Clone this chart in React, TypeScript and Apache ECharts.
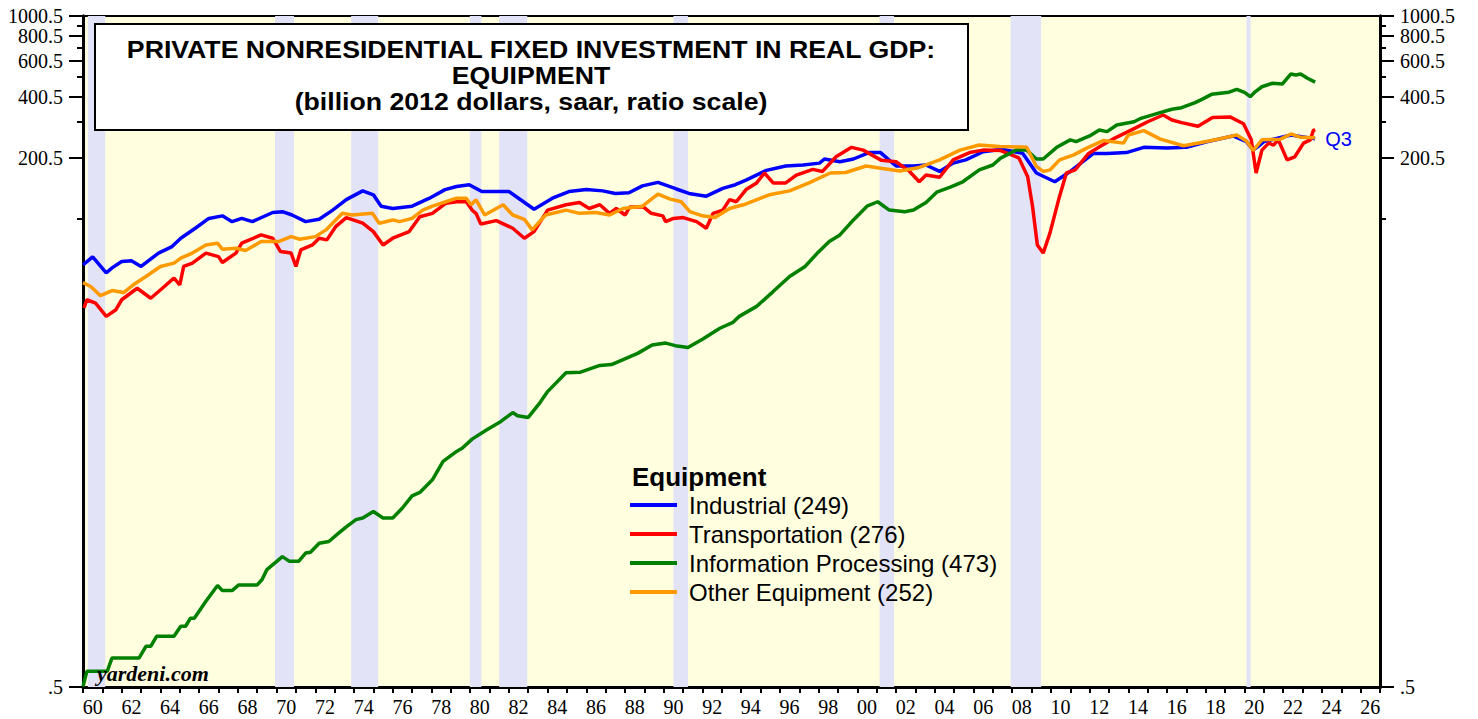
import React, { useEffect, useRef } from "react";
import * as echarts from "echarts";

// ---------- DATA (decimal year, billion 2012 dollars) ----------
const industrial: [number, number][] = [
  [1960.0, 59.7], [1960.5, 65.3], [1961.2, 54.5], [1961.5, 57.7], [1962.0, 62.0], [1962.5, 62.5],
  [1963.0, 58.6], [1963.9, 68.2], [1964.6, 73.4], [1965.05, 80.7], [1965.8, 90.4], [1966.5, 101],
  [1967.2, 104], [1967.7, 97.4], [1968.2, 101], [1968.75, 97.4], [1969.8, 108], [1970.3, 109],
  [1970.8, 105], [1971.5, 97.4], [1972.2, 100], [1972.9, 111], [1973.6, 125], [1974.45, 138],
  [1975.0, 132], [1975.4, 116], [1976.0, 113], [1977.0, 116], [1977.9, 127], [1978.7, 140],
  [1979.3, 145], [1979.95, 148], [1980.6, 137], [1982.0, 137], [1983.3, 112], [1984.25, 127],
  [1985.1, 137], [1986.0, 140], [1986.85, 138], [1987.5, 134], [1988.2, 135], [1988.9, 146],
  [1989.7, 152], [1990.65, 141], [1991.3, 134], [1992.2, 130], [1993.05, 142], [1993.7, 148],
  [1994.25, 156], [1995.3, 174], [1996.3, 183], [1997.2, 185], [1998.05, 189], [1998.3, 198],
  [1999.1, 192], [1999.8, 198], [2000.6, 213], [2001.2, 213], [2002.0, 183], [2002.9, 183],
  [2003.55, 185], [2004.25, 172], [2004.95, 189], [2005.6, 196], [2006.5, 215], [2007.5, 221],
  [2008.55, 211], [2009.25, 169], [2010.2, 153], [2011.0, 172], [2012.2, 211], [2012.9, 211],
  [2013.9, 213], [2014.8, 226], [2016.0, 224], [2017.0, 226], [2018.1, 241], [2019.4, 257],
  [2020.1, 241], [2020.45, 219], [2020.8, 232], [2021.0, 241], [2022.4, 260], [2023.2, 253],
  [2023.65, 249],
];

const transportation: [number, number][] = [
  [1960.05, 36.6], [1960.2, 40.2], [1960.65, 38.7], [1961.2, 33.3], [1961.7, 35.9], [1962.0, 40.2],
  [1962.8, 45.8], [1963.5, 40.9], [1964.1, 45.8], [1964.7, 51.4], [1965.0, 47.6], [1965.2, 58.6],
  [1965.65, 60.9], [1966.35, 68.2], [1967.0, 65.5], [1967.2, 61.3], [1967.9, 68.2], [1968.2, 76.3],
  [1969.2, 83.8], [1969.8, 80.7], [1970.2, 69.4], [1970.75, 68.2], [1971.0, 58.6], [1971.25, 70.7],
  [1971.85, 74.8], [1972.2, 80.7], [1972.6, 79.2], [1973.05, 92.0], [1973.6, 102], [1974.45, 95.7],
  [1975.0, 87.0], [1975.5, 74.8], [1976.0, 80.7], [1976.85, 87.0], [1977.4, 103], [1978.05, 107],
  [1978.75, 120], [1979.3, 122], [1979.8, 122], [1980.1, 111], [1980.3, 107], [1980.55, 94.9],
  [1981.35, 98.5], [1982.2, 90.4], [1982.8, 80.7], [1983.3, 87.0], [1984.0, 111], [1984.95, 118],
  [1985.65, 121], [1986.15, 113], [1986.7, 118], [1987.2, 107], [1987.55, 113], [1988.0, 105],
  [1988.25, 115], [1988.95, 115], [1989.35, 107], [1989.95, 104], [1990.1, 97.4], [1990.5, 101],
  [1991.0, 102], [1991.7, 97.4], [1992.2, 90.4], [1992.55, 107], [1993.05, 111], [1993.4, 125],
  [1993.75, 122], [1994.25, 140], [1994.8, 151], [1995.2, 169], [1995.65, 151], [1996.3, 151],
  [1996.85, 165], [1997.7, 176], [1998.2, 172], [1998.9, 203], [1999.7, 226], [2000.3, 219],
  [2001.25, 195], [2002.0, 192], [2002.7, 172], [2003.2, 153], [2003.55, 165], [2004.25, 161],
  [2004.95, 196], [2005.3, 203], [2005.8, 213], [2006.5, 219], [2007.4, 218], [2008.0, 207],
  [2008.35, 200], [2008.8, 162], [2009.05, 116], [2009.3, 74.8], [2009.6, 68.2], [2009.95, 85.5],
  [2010.4, 125], [2010.8, 169], [2011.25, 175], [2011.95, 211], [2012.6, 230], [2013.3, 251],
  [2014.35, 281], [2015.0, 302], [2015.8, 326], [2016.25, 308], [2016.75, 299], [2017.6, 287],
  [2018.35, 317], [2019.25, 319], [2019.95, 295], [2020.35, 246], [2020.6, 169], [2020.9, 219],
  [2021.25, 237], [2021.5, 232], [2021.75, 246], [2022.2, 196], [2022.6, 203], [2023.05, 237],
  [2023.4, 246], [2023.55, 273], [2023.65, 276],
];

const infoProcessing: [number, number][] = [
  [1960.0, 0.502], [1960.2, 0.597], [1961.25, 0.597], [1961.5, 0.695], [1962.9, 0.695], [1963.25, 0.793],
  [1963.5, 0.793], [1963.8, 0.888], [1964.7, 0.888], [1965.05, 0.995], [1965.3, 0.995], [1965.55, 1.09],
  [1965.75, 1.09], [1966.35, 1.32], [1966.95, 1.58], [1967.2, 1.49], [1967.7, 1.49], [1968.05, 1.59],
  [1969.0, 1.59], [1969.25, 1.69], [1969.5, 1.89], [1970.3, 2.19], [1970.65, 2.08], [1971.15, 2.08],
  [1971.5, 2.28], [1971.75, 2.30], [1972.2, 2.55], [1972.7, 2.60], [1973.25, 2.88], [1973.6, 3.07],
  [1974.1, 3.33], [1974.45, 3.39], [1975.0, 3.65], [1975.5, 3.39], [1976.0, 3.39], [1976.5, 3.80],
  [1977.0, 4.36], [1977.4, 4.53], [1978.05, 5.23], [1978.6, 6.44], [1979.3, 7.21], [1979.6, 7.49],
  [1980.1, 8.29], [1980.8, 9.14], [1981.5, 10.0], [1982.2, 11.2], [1982.45, 10.8], [1983.0, 10.6],
  [1983.6, 12.5], [1984.0, 14.2], [1984.95, 17.6], [1985.7, 17.7], [1986.7, 19.1], [1987.3, 19.3],
  [1987.9, 20.4], [1988.65, 21.9], [1989.4, 24.1], [1990.1, 24.6], [1990.6, 23.9], [1991.25, 23.4],
  [1992.0, 25.7], [1992.9, 29.1], [1993.55, 31.0], [1993.9, 33.3], [1994.8, 37.3], [1995.65, 44.1],
  [1996.5, 52.3], [1997.3, 58.6], [1997.9, 67.6], [1998.55, 77.7], [1999.1, 83.8], [1999.8, 99.3],
  [2000.5, 116], [2001.05, 122], [2001.65, 111], [2002.45, 109], [2002.9, 111], [2003.55, 121],
  [2004.1, 136], [2004.8, 144], [2005.45, 153], [2006.3, 175], [2007.0, 185], [2007.4, 200],
  [2008.2, 219], [2008.75, 219], [2009.25, 198], [2009.6, 198], [2010.3, 226], [2011.0, 246],
  [2011.3, 241], [2012.0, 257], [2012.5, 275], [2012.9, 270], [2013.4, 291], [2014.3, 302],
  [2014.65, 314], [2015.55, 333], [2016.25, 348], [2016.75, 354], [2017.45, 375], [2017.8, 389],
  [2018.3, 412], [2019.2, 422], [2019.6, 436], [2020.0, 421], [2020.3, 401], [2020.55, 424],
  [2020.9, 449], [2021.45, 467], [2021.95, 463], [2022.4, 519], [2022.65, 513], [2022.9, 519],
  [2023.25, 494], [2023.65, 473],
];

const otherEquipment: [number, number][] = [
  [1960.0, 48.8], [1960.4, 46.7], [1960.9, 42.1], [1961.5, 44.6], [1962.1, 43.6], [1962.6, 47.6],
  [1963.25, 52.3], [1964.0, 58.6], [1964.7, 60.9], [1965.05, 64.4], [1965.65, 68.2], [1966.35, 74.8],
  [1966.95, 76.3], [1967.2, 71.3], [1967.9, 72.1], [1968.4, 70.2], [1969.2, 77.7], [1970.1, 77.7],
  [1970.75, 82.2], [1971.2, 79.8], [1972.0, 82.2], [1972.55, 88.7], [1973.4, 107], [1973.9, 105],
  [1974.95, 107], [1975.3, 95.7], [1976.0, 99.3], [1976.35, 97.4], [1977.0, 101], [1977.55, 111],
  [1978.05, 116], [1978.75, 122], [1979.3, 127], [1979.8, 127], [1980.05, 118], [1980.3, 125],
  [1980.75, 105], [1981.7, 118], [1982.2, 105], [1982.8, 100], [1983.2, 88.7], [1983.9, 105],
  [1984.95, 111], [1985.65, 107], [1986.5, 108], [1987.2, 105], [1987.9, 113], [1988.9, 116],
  [1989.7, 133], [1990.3, 126], [1990.9, 122], [1991.35, 109], [1992.0, 104], [1992.65, 102],
  [1993.4, 113], [1994.25, 119], [1995.45, 132], [1996.5, 138], [1997.5, 151], [1998.6, 169],
  [1999.4, 170], [2000.45, 183], [2001.3, 178], [2002.2, 173], [2003.2, 180], [2004.25, 196],
  [2005.3, 219], [2006.3, 232], [2007.35, 228], [2008.5, 227], [2008.75, 226], [2009.25, 182],
  [2009.6, 172], [2009.95, 175], [2010.45, 196], [2011.15, 207], [2011.85, 224], [2012.7, 244],
  [2013.75, 237], [2014.0, 260], [2014.8, 273], [2015.65, 248], [2016.85, 230], [2017.7, 238],
  [2018.75, 249], [2019.6, 260], [2020.1, 243], [2020.45, 218], [2020.9, 246], [2021.85, 248],
  [2022.4, 263], [2022.9, 253], [2023.65, 252],
];

const seriesNames = [
  "Industrial (249)",
  "Transportation (276)",
  "Information Processing (473)",
  "Other Equipment (252)",
];
const seriesColors = ["#0000ff", "#ff0000", "#008000", "#ff9900"];

const recessions: [number, number][] = [
  [1960.25, 1961.15], [1969.92, 1970.9], [1973.85, 1975.25], [1979.98, 1980.58],
  [1981.5, 1982.95], [1990.5, 1991.25], [2001.15, 2001.9], [2007.92, 2009.5], [2020.1, 2020.32],
];

const titleLines = [
  "PRIVATE NONRESIDENTIAL FIXED INVESTMENT IN REAL GDP:",
  "EQUIPMENT",
  "(billion 2012 dollars, saar, ratio scale)",
];

// major (long) ticks with labels, minor (short) ticks; top label kept on its own axis
const yMajorTicks = [0.5, 200.5, 400.5, 600.5, 800.5, 1000.5];
const yMajorLabels = [0.5, 200.5, 400.5, 600.5, 800.5];
const yTopLabel = [1000.5];
const yMinorTicks = [100.5, 300.5, 500.5, 700.5, 900.5];
const xTickYears = Array.from({ length: 68 }, (_, i) => 1960 + i);
const xLabelYears = Array.from({ length: 34 }, (_, i) => 1960.5 + 2 * i);

const Y_MIN = 0.5;
const Y_MAX = 1000.6;

const serif = "'Liberation Serif', 'Times New Roman', serif";
const sans = "'Liberation Sans', Arial, sans-serif";

function yAxisDef(position: "left" | "right", major: boolean) {
  return {
    type: "log",
    logBase: 10,
    min: Y_MIN,
    max: Y_MAX,
    position,
    splitLine: { show: false },
    axisLine: { show: true, lineStyle: { color: "#000", width: 3 } },
    axisTick: {
      show: true,
      inside: false,
      length: major ? 14 : 6,
      lineStyle: { color: "#000", width: 2 },
      customValues: major ? yMajorTicks : yMinorTicks,
    },
    axisLabel: {
      show: true,
      customValues: major ? yMajorLabels : yTopLabel,
      showMaxLabel: true,
      showMinLabel: true,
      margin: 20,
      color: "#000",
      fontFamily: serif,
      fontSize: 20,
      formatter: (v: number) => (v < 1 ? ".5" : v.toFixed(1)),
    },
  };
}

export default function App() {
  const ref = useRef<HTMLDivElement>(null);
  useEffect(() => {
    document.body.style.margin = "0";
    const chart = echarts.init(ref.current!, null, { renderer: "svg" });
    const datasets = [industrial, transportation, infoProcessing, otherEquipment];
    const series: any[] = datasets.map((d, i) => ({
      name: seriesNames[i],
      type: "line",
      xAxisIndex: 0,
      yAxisIndex: 0,
      data: d,
      showSymbol: false,
      smooth: false,
      color: seriesColors[i],
      lineStyle: { width: 3.5, color: seriesColors[i] },
      z: 3 + i,
      ...(i === 0
        ? {
            endLabel: {
              show: true,
              formatter: "Q3",
              color: "#0000ff",
              fontFamily: sans,
              fontSize: 20,
              distance: 10,
            },
            markArea: {
              silent: true,
              itemStyle: { color: "#e3e3f8" },
              data: recessions.map(([a, b]) => [{ xAxis: a }, { xAxis: b }]),
            },
          }
        : {}),
    }));

    const titleYs = [50, 76, 102];
    const titleTexts = titleLines.map((t, i) => ({
      type: "text",
      z: 101,
      x: 531,
      y: titleYs[i],
      scaleX: 1.16,
      style: {
        x: 0, y: 0, text: t,
        font: `bold 23px ${sans}`, fill: "#000", textAlign: "center", textVerticalAlign: "middle",
      },
    }));

    const option: any = {
      animation: false,
      backgroundColor: "#ffffff",
      grid: {
        left: 83,
        right: 98,
        top: 16,
        bottom: 32,
        show: true,
        backgroundColor: "#ffffe0",
        borderWidth: 0,
      },
      xAxis: [
        {
          type: "value",
          min: 1960,
          max: 2027,
          interval: 1,
          position: "bottom",
          splitLine: { show: false },
          axisLine: { show: true, lineStyle: { color: "#000", width: 3 } },
          axisTick: {
            show: true,
            length: 6,
            lineStyle: { color: "#000", width: 2 },
            customValues: xTickYears,
          },
          axisLabel: {
            customValues: xLabelYears,
            margin: 10,
            color: "#000",
            fontFamily: serif,
            fontSize: 20,
            formatter: (v: number) => String(Math.floor(v) % 100).padStart(2, "0"),
          },
        },
        {
          type: "value",
          min: 1960,
          max: 2027,
          position: "top",
          splitLine: { show: false },
          axisLine: { show: true, lineStyle: { color: "#000", width: 2 } },
          axisTick: { show: false },
          axisLabel: { show: false },
        },
      ],
      yAxis: [
        yAxisDef("left", true),
        yAxisDef("left", false),
        yAxisDef("right", true),
        yAxisDef("right", false),
      ],
      legend: {
        orient: "vertical",
        left: 625,
        top: 488,
        itemWidth: 47,
        itemHeight: 4,
        itemGap: 5,
        icon: "rect",
        selectedMode: false,
        textStyle: {
          fontFamily: sans,
          fontSize: 24,
          lineHeight: 24,
          color: "#000",
          padding: [0, 0, 0, 7],
        },
        data: seriesNames,
      },
      graphic: [
        {
          type: "rect",
          shape: { x: 95, y: 24, width: 873, height: 106 },
          style: { fill: "#ffffff", stroke: "#000", lineWidth: 2 },
          z: 100,
        },
        ...titleTexts,
        {
          type: "text",
          z: 101,
          style: {
            x: 632, y: 477, text: "Equipment",
            font: `bold 26px ${sans}`, fill: "#000", textAlign: "left", textVerticalAlign: "middle",
          },
        },
        {
          type: "text",
          z: 101,
          style: {
            x: 97, y: 673, text: "yardeni.com",
            font: `italic bold 22px ${serif}`, fill: "#000", textAlign: "left", textVerticalAlign: "middle",
          },
        },
      ],
      series,
    };
    chart.setOption(option);
    return () => chart.dispose();
  }, []);
  return <div ref={ref} style={{ width: 1478, height: 719 }} />;
}
